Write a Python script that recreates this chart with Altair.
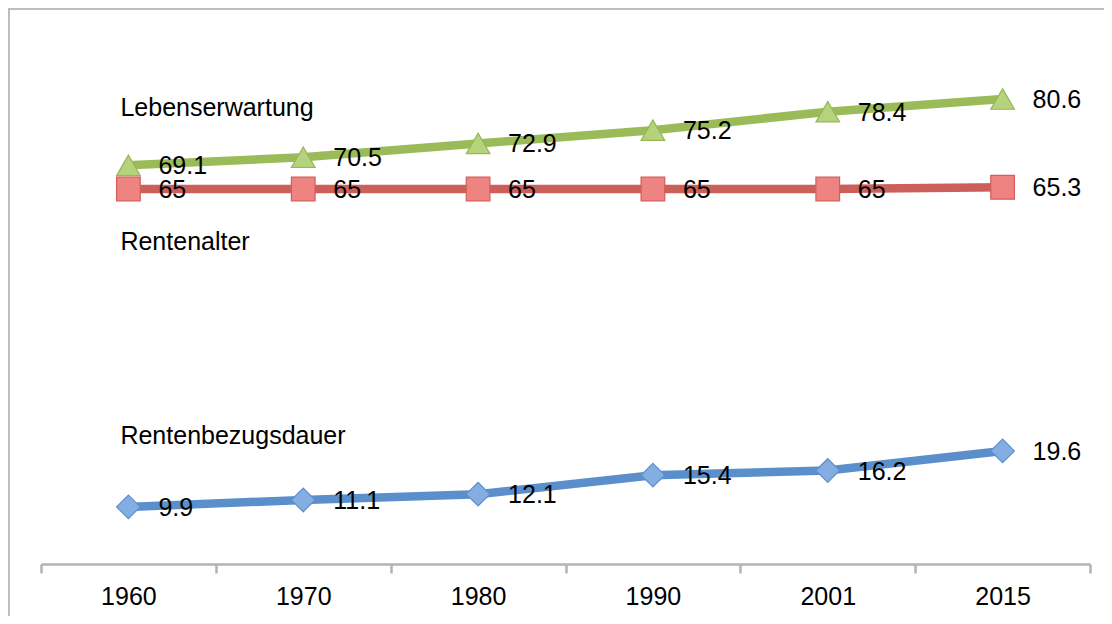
import altair as alt
import pandas as pd

years = ["1960", "1970", "1980", "1990", "2001", "2015"]
lebenserwartung = [69.1, 70.5, 72.9, 75.2, 78.4, 80.6]
rentenalter = [65, 65, 65, 65, 65, 65.3]
rentenbezugsdauer = [9.9, 11.1, 12.1, 15.4, 16.2, 19.6]

series_names = ["Lebenserwartung", "Rentenalter", "Rentenbezugsdauer"]
series_values = [lebenserwartung, rentenalter, rentenbezugsdauer]
name_label_values = [79.0, 55.8, 22.2]

line_colors = ["#9BBB59", "#CD5F5A", "#5B8FCC"]
marker_fills = ["#B5D37C", "#EE8481", "#84AEE2"]
marker_strokes = ["#97B655", "#D45D59", "#5F8FCB"]
shapes = ["triangle-up", "square", "diamond"]

FONT = "Liberation Sans"
FS = 25

x_scale = alt.Scale(domain=years, paddingInner=0, paddingOuter=0)
y_scale = alt.Scale(domain=[0, 96.2], nice=False, zero=True)

layers = []

frame = alt.Chart(pd.DataFrame({"a": [0]})).mark_rect(
    fillOpacity=0, stroke="#BDBDBD", strokeWidth=2
).encode(
    x=alt.value(-32), x2=alt.value(1300), y=alt.value(0), y2=alt.value(800)
)
layers.append(frame)

axis_layer = alt.Chart(pd.DataFrame({"year": years, "v": [0] * len(years)})).mark_point(
    opacity=0
).encode(
    x=alt.X("year:N", scale=x_scale, sort=years,
            axis=alt.Axis(title=None, tickBand="extent", labelAngle=0,
                          domainColor="#B3B3B3", domainWidth=2.5,
                          tickColor="#B3B3B3", tickWidth=2.5, tickSize=9,
                          labelFont=FONT, labelFontSize=FS, labelColor="#000000",
                          labelPadding=11)),
    y=alt.Y("v:Q", scale=y_scale, axis=None),
)
layers.append(axis_layer)

for i, name in enumerate(series_names):
    df = pd.DataFrame({"year": years, "value": series_values[i],
                       "label": [f"{v:g}" for v in series_values[i]]})
    base = alt.Chart(df).encode(
        x=alt.X("year:N", scale=x_scale, sort=years),
        y=alt.Y("value:Q", scale=y_scale, axis=None),
    )
    layers.append(base.mark_line(color=line_colors[i], strokeWidth=8.5))
    layers.append(base.mark_point(shape=shapes[i], size=560, filled=True,
                                  fill=marker_fills[i], stroke=marker_strokes[i],
                                  strokeWidth=1.2, opacity=1))
    layers.append(base.mark_text(align="left", baseline="middle", dx=30, dy=1,
                                 font=FONT, fontSize=FS, color="#000000").encode(
        text="label:N"))
    name_df = pd.DataFrame({"year": [years[0]], "value": [name_label_values[i]],
                            "name": [name]})
    layers.append(alt.Chart(name_df).mark_text(
        align="left", baseline="middle", dx=-8, font=FONT, fontSize=FS, color="#000000"
    ).encode(
        x=alt.X("year:N", scale=x_scale, sort=years),
        y=alt.Y("value:Q", scale=y_scale, axis=None),
        text="name:N",
    ))

chart = alt.layer(*layers).properties(
    width=1049, height=555,
    autosize=alt.AutoSizeParams(type="none"),
    padding={"left": 33, "top": 1, "right": 14, "bottom": 52},
).configure_view(stroke=None)

chart.save("out.html", embed_options={"renderer": "svg", "actions": False})
